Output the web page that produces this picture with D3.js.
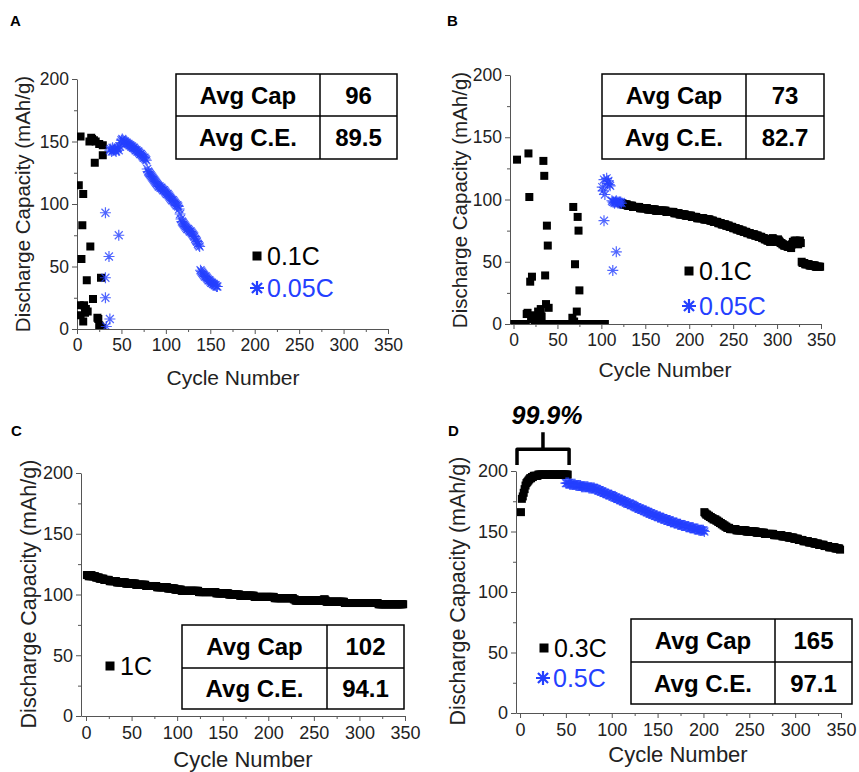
<!DOCTYPE html>
<html>
<head>
<meta charset="utf-8">
<script src="https://cdn.jsdelivr.net/npm/d3@7"></script>
<style>
body { margin:0; background:#fff; }
text { font-family:"Liberation Sans", Arial, sans-serif; }
</style>
</head>
<body>
<div id="chart-area"></div>
<script>
// ---- data ----
const cycleTicks = [0,50,100,150,200,250,300,350];
const cycleMinor = [25,75,125,175,225,275,325];
const capTicks = [0,50,100,150,200];
const capMinor = [25,75,125,175];
const tableRows = ["Avg Cap","Avg C.E."];

// A : 0.1C (squares) and 0.05C (stars)
const aSquares = [[2,115],[3,19],[4,154],[4,11],[5,56],[6,83],[7,108],[7,6],[8,19],[9,13],[10,16],[11,39],[12,14],
  [14,150],[15,66],[16,153],[17,152],[18,24],[19,151],[20,133],[21,150],[23,9],[24,8],[25,148],[25,3],[26,2],[27,41],[28,1],[29,147],[29,139]];
const aStarsSparse = [[32,93],[33,2],[32,41],[32,25],[36,58],[37,8],[47,75]];
const aStarsStart = 37;
const aStarsVals = [143,144,142,145,143,144,143,142,144,145,143,146,
  149,151,152,151,
  150,150,149,149,148,148,147,147,146,146,145,145,144,143,143,142,142,141,140,140,139,138,137,137,136,135,
  128,126,125,124,123,122,121,120,119,118,117,116,115,114,
  114,113,113,112,111,111,110,109,108,108,107,106,105,104,103,103,102,101,100,99,
  99,98,96,92,88,86,
  85,84,83,82,81,80,80,79,78,78,77,76,75,74,72,71,70,68,67,66,
  47,46,45,44,43,42,42,41,40,39,39,38,37,37,36,36,35,35,34,34];
const aTable = ["96","89.5"];

// B
const bSquaresStart = 1;
const bSquaresEarly = [0,0,0,132,0,0,0,0,0,0, 0,0,0,0,8,9,137,102,34,6,
  38,4,7,3,5,2,3,10,5,9, 12,6,0,131,119,39,16,79,63,13,
  0,0,0,0,0,0,0,0,0,0, 0,0,0,0,0,0,0,0,0,0,
  0,0,0,0,0,0,5,94,2,48, 0,10,86,75,27,0,0,0,0,0,
  0,0,0,0,0,0,0,0,0,0, 0,0,0,0,0,0,0,0,0,0, 0,0,0,0];
const bStarsSparse = [[101,110],[102,107],[103,116],[103,83],[104,104],[106,117],[107,113],[108,115],[109,112],[110,111],[113,43],[117,58]];
const bStarsStart = 112;
const bStarsVals = [99,98,98,97,98,99,98,97,98,97,98,97];
const bSquaresStart2 = 122;
const bSquaresVals = [97,97,97,96,96,96,96,96,95,
  95,95,95,95,95,94,94,94,94,94, 94,94,94,93,93,93,93,93,93,93,
  93,93,92,92,92,92,92,92,92,92, 92,91,91,91,91,91,91,91,91,91,
  91,91,91,90,90,90,90,90,90,90, 90,90,89,89,89,89,89,89,88,88,
  88,88,88,88,88,87,87,87,87,87, 87,87,86,86,86,86,86,86,85,85,
  85,85,85,85,85,85,84,84,84,84, 84,84,84,83,83,83,83,82,82,82,
  82,82,81,81,81,81,80,80,80,80, 80,79,79,79,79,78,78,78,78,77,
  77,77,77,76,76,76,76,75,75,75, 75,74,74,74,74,73,73,73,73,72,
  72,72,72,72,71,71,71,71,70,70, 70,70,69,69,69,68,68,68,67,67,
  67,66,66,68,69,68,67,67,66,66, 68,67,66,65,65,64,64,63,63,63,
  63,62,62,62,63,61,64,66,65,67, 66,67,65,64,66,67,65,
  50,49,49,49,48,48,48,48,48,47,47,47,47,47,47,47,46,46,46,46,46,46];
const bTable = ["73","82.7"];

// C : 1C
const cSquaresStart = 1;
const cSquaresVals = [116,116,115,116,115,116,115,115,115,115, 114,114,114,114,113,113,113,113,113,112,
  112,112,112,112,112,111,111,111,111,111, 111,111,111,110,110,110,110,110,110,110,
  110,110,110,109,109,109,109,109,109,109, 109,109,109,109,108,108,108,108,108,108,
  108,108,108,108,108,107,107,107,107,107, 107,107,107,107,107,107,107,106,106,106,
  106,106,106,106,106,106,106,106,106,105, 105,105,105,105,105,105,105,104,104,104,
  104,104,104,104,103,103,103,103,103,103, 103,103,103,103,103,103,103,103,103,103,
  103,103,103,102,102,102,102,102,102,102, 102,102,102,102,102,102,102,102,102,102,
  102,102,101,101,101,101,101,101,101,101, 101,101,101,101,101,101,100,100,100,100,
  100,100,100,100,100,100,100,100,99,99, 99,99,99,99,99,99,99,99,99,99,
  99,99,99,99,98,98,98,98,98,98, 98,98,98,98,98,98,98,98,98,98,
  98,98,98,98,98,98,97,97,97,97, 97,97,97,97,97,97,97,97,97,97,
  97,97,97,97,97,97,97,96,96,95, 95,95,95,95,95,95,95,95,95,95,
  95,95,95,95,95,95,95,95,95,95, 95,95,95,95,95,95,95,95,95,95,
  96,96,95,94,94,94,94,94,94,94, 94,94,94,94,94,94,94,94,94,94,
  94,94,94,93,93,93,93,93,93,93, 93,93,93,93,93,93,93,93,93,93,
  93,93,93,93,93,93,93,93,93,93, 93,93,93,93,93,93,93,93,93,93,
  92,92,92,92,92,92,92,92,92,92, 92,92,92,92,92,92,92,92,92,92,
  92,92,92,92,92,92,92,92];
const cTable = ["102","94.1"];

// D : 0.3C (squares) and 0.5C (stars)
const dSquaresStart = 1;
const dSquaresEarly = [166,177,179,182,185,188,190,191,192,193,194,194,195,195,196,
  196,196,196,196,197,197,197,197,197,197,197,197,197,197,197,197,197,197,197,197,197,197,197,197,197,197,197,197,197,197,197,197,197,197,197,197,197];
const dStarsStart = 50;
const dStarsVals = [190,190,190,190,189,189,189,189,189,189, 189,188,188,188,188,188,188,187,187,187,
  187,187,187,187,187,186,186,186,186,186, 186,186,185,185,185,184,184,184,183,183,
  183,182,182,182,181,181,181,180,180,180, 180,179,179,178,178,178,177,177,177,176,
  176,176,175,175,175,174,174,173,173,173, 173,172,172,172,171,171,170,170,170,169,
  169,169,168,168,168,167,167,167,166,166, 166,165,165,165,164,164,164,163,163,163,
  162,162,162,162,161,161,161,160,160,160, 160,159,159,159,158,158,158,158,157,157,
  157,157,156,156,156,156,155,155,155,155, 155,154,154,154,154,153,153,153,153,153,
  152,152,152,152,152,151,151,151,151,151, 151,150];
const dSquaresStart2 = 201;
const dSquaresLate = [166,165,164,164,163,163,162,162,161,161, 160,160,160,159,159,158,158,157,157,156,
  156,155,155,154,154,153,153,153,152,152, 152,152,152,152,152,151,151,151,151,151,
  151,151,151,151,151,151,150,150,150,150, 150,150,150,150,150,150,150,149,149,149,
  149,149,149,149,149,149,148,148,148,148, 148,148,148,148,148,148,147,147,147,147,
  147,147,147,147,147,146,146,146,146,146, 146,146,145,145,145,145,145,145,144,144,
  144,144,144,143,143,143,143,143,142,142, 142,142,142,142,141,141,141,141,141,141,
  140,140,140,140,140,139,139,139,139,139, 139,138,138,138,138,138,137,137,137,137,
  137,137,137,136,136,136,136,136,135];
const dTable = ["165","97.1"];
const dNote = "99.9%";

// ---- drawing ----
const width = 859, height = 772;
const blue = "#2440ff";
const sq = 8;

var svg = d3.select("#chart-area").append("svg")
    .attr("width", width)
    .attr("height", height);

function run(start, vals) { return vals.map((v,i) => [start + i, v]); }

function starPath(r) {
  var a = r * 0.72;
  return `M0,${-r}L0,${r}M${-r},0L${r},0M${-a},${-a}L${a},${a}M${-a},${a}L${a},${-a}`;
}

var panels = [
  {id:"A", letter:[10,26], xd:[0,350], xr:[77,388], yr:[329,79], tick:17.5, title:21,
   ytitle:[23,204], xtitle:[233,385],
   squares: aSquares, stars: aStarsSparse.concat(run(aStarsStart, aStarsVals)),
   table:{x:[176,320,397], y:[74,116,159], vals:aTable},
   legend:[{k:"sq", x:257, y:256, t:"0.1C", c:"#000"},{k:"st", x:257, y:288, t:"0.05C", c:blue}]},
  {id:"B", letter:[447,26], xd:[-4,350], xr:[510,821], yr:[324,75], tick:17.5, title:21,
   ytitle:[460,200], xtitle:[665,377],
   squares: run(bSquaresStart, bSquaresEarly).concat(run(bSquaresStart2, bSquaresVals)),
   stars: bStarsSparse.concat(run(bStarsStart, bStarsVals)),
   table:{x:[602,746,824], y:[74,116,159], vals:bTable},
   legend:[{k:"sq", x:689, y:271, t:"0.1C", c:"#000"},{k:"st", x:689, y:306, t:"0.05C", c:blue}]},
  {id:"C", letter:[11,436], xd:[-5.5,350], xr:[81,405], yr:[716,473], tick:18, title:22,
   ytitle:[28,594], xtitle:[243,767],
   squares: run(cSquaresStart, cSquaresVals), stars: [],
   table:{x:[182,327,404], y:[625,668,709], vals:cTable},
   legend:[{k:"sq", x:110, y:666, t:"1C", c:"#000"}]},
  {id:"D", letter:[448,436], xd:[-4.4,350], xr:[516,841], yr:[713,471], tick:18, title:22,
   ytitle:[457,591], xtitle:[678,762],
   squares: run(dSquaresStart, dSquaresEarly).concat(run(dSquaresStart2, dSquaresLate)),
   stars: run(dStarsStart, dStarsVals),
   table:{x:[631,775,852], y:[619,662,704], vals:dTable},
   legend:[{k:"sq", x:544, y:648, t:"0.3C", c:"#000"},{k:"st", x:543, y:678, t:"0.5C", c:blue}]}
];

panels.forEach(function(p){
  var g = svg.append("g");
  var x = d3.scaleLinear().domain(p.xd).range(p.xr);
  var y = d3.scaleLinear().domain([0,200]).range(p.yr);

  // axes
  g.append("g").attr("transform", `translate(${p.xr[0]},0)`)
      .call(d3.axisLeft(y).tickValues(capTicks).tickSize(5).tickSizeOuter(0).tickPadding(3));
  g.append("g").attr("transform", `translate(${p.xr[0]},0)`)
      .call(d3.axisLeft(y).tickValues(capMinor).tickSize(3).tickFormat(""))
      .select(".domain").remove();
  g.append("g").attr("transform", `translate(0,${p.yr[0]})`)
      .call(d3.axisBottom(x).tickValues(cycleTicks).tickSize(5).tickSizeOuter(0).tickPadding(5));
  g.append("g").attr("transform", `translate(0,${p.yr[0]})`)
      .call(d3.axisBottom(x).tickValues(cycleMinor).tickSize(3).tickFormat(""))
      .select(".domain").remove();
  g.selectAll(".domain, .tick line").attr("stroke", "#555").attr("stroke-width", 1);
  g.selectAll(".tick text")
      .attr("font-family", "Liberation Sans, Arial, sans-serif")
      .attr("font-size", p.tick)
      .attr("fill", "#222");

  g.append("text")
      .attr("transform", `translate(${p.ytitle[0]},${p.ytitle[1]}) rotate(-90)`)
      .attr("text-anchor", "middle")
      .attr("dy", "0.35em")
      .attr("font-size", p.title - 0.5)
      .attr("fill", "#222")
      .text("Discharge Capacity (mAh/g)");
  g.append("text")
      .attr("x", p.xtitle[0]).attr("y", p.xtitle[1])
      .attr("text-anchor", "middle")
      .attr("font-size", p.title)
      .attr("fill", "#222")
      .text("Cycle Number");

  g.append("text")
      .attr("x", p.letter[0]).attr("y", p.letter[1])
      .attr("font-size", 15).attr("font-weight", "bold")
      .text(p.id);

  // data
  g.append("clipPath").attr("id", "clip" + p.id)
    .append("rect")
      .attr("x", p.xr[0]).attr("y", p.yr[1] - 6)
      .attr("width", p.xr[1] - p.xr[0] + 6)
      .attr("height", p.yr[0] - p.yr[1] + 6);
  var plot = g.append("g").attr("clip-path", `url(#clip${p.id})`);

  plot.selectAll("rect")
      .data(p.squares)
      .enter().append("rect")
      .attr("x", d => x(d[0]) - sq/2)
      .attr("y", d => y(d[1]) - sq/2)
      .attr("width", sq).attr("height", sq)
      .attr("fill", "#000");

  plot.selectAll("path")
      .data(p.stars)
      .enter().append("path")
      .attr("d", starPath(5.5))
      .attr("transform", d => `translate(${x(d[0])},${y(d[1])})`)
      .attr("fill", "none")
      .attr("stroke", blue)
      .attr("stroke-opacity", 0.8)
      .attr("stroke-width", 1.2);

  // legend
  p.legend.forEach(function(l){
    if (l.k == "sq") {
      g.append("rect").attr("x", l.x - 4.5).attr("y", l.y - 4.5)
        .attr("width", 9).attr("height", 9).attr("fill", "#000");
    } else {
      g.append("path").attr("d", starPath(7))
        .attr("transform", `translate(${l.x},${l.y})`)
        .attr("stroke", l.c).attr("stroke-width", 2.2).attr("fill", "none");
    }
    g.append("text")
        .attr("x", l.x + 10).attr("y", l.y + 9)
        .attr("font-size", 25)
        .attr("fill", l.c)
        .text(l.t);
  });

  // table
  var t = p.table;
  g.append("rect")
      .attr("x", t.x[0]).attr("y", t.y[0])
      .attr("width", t.x[2] - t.x[0]).attr("height", t.y[2] - t.y[0])
      .attr("fill", "#fff").attr("stroke", "#000").attr("stroke-width", 1.5);
  g.append("line").attr("x1", t.x[1]).attr("x2", t.x[1]).attr("y1", t.y[0]).attr("y2", t.y[2])
      .attr("stroke", "#000").attr("stroke-width", 1.5);
  g.append("line").attr("x1", t.x[0]).attr("x2", t.x[2]).attr("y1", t.y[1]).attr("y2", t.y[1])
      .attr("stroke", "#000").attr("stroke-width", 1.5);
  tableRows.forEach(function(r, i){
    var cy = (t.y[i] + t.y[i+1]) / 2 + 8.5;
    g.append("text").attr("x", (t.x[0] + t.x[1]) / 2).attr("y", cy)
        .attr("text-anchor", "middle").attr("font-size", 24).attr("font-weight", "bold")
        .text(r);
    g.append("text").attr("x", (t.x[1] + t.x[2]) / 2).attr("y", cy)
        .attr("text-anchor", "middle").attr("font-size", 24).attr("font-weight", "bold")
        .text(t.vals[i]);
  });

  // bracket over the first 0.3C cycles in D
  if (p.id == "D") {
    var bl = x(-3.3), br = x(53.5), bm = x(25);
    var yb = y(205), yt = y(218), ys = y(232);
    g.append("path")
        .attr("d", `M${bl},${yb}L${bl},${yt}L${br},${yt}L${br},${yb}M${bm},${yt}L${bm},${ys}`)
        .attr("fill", "none").attr("stroke", "#000").attr("stroke-width", 3.5)
        .attr("stroke-linejoin", "round");
    g.append("text")
        .attr("x", bm + 4).attr("y", y(239))
        .attr("text-anchor", "middle")
        .attr("font-size", 25).attr("font-weight", "bold").attr("font-style", "italic")
        .text(dNote);
  }
});
</script>
</body>
</html>
